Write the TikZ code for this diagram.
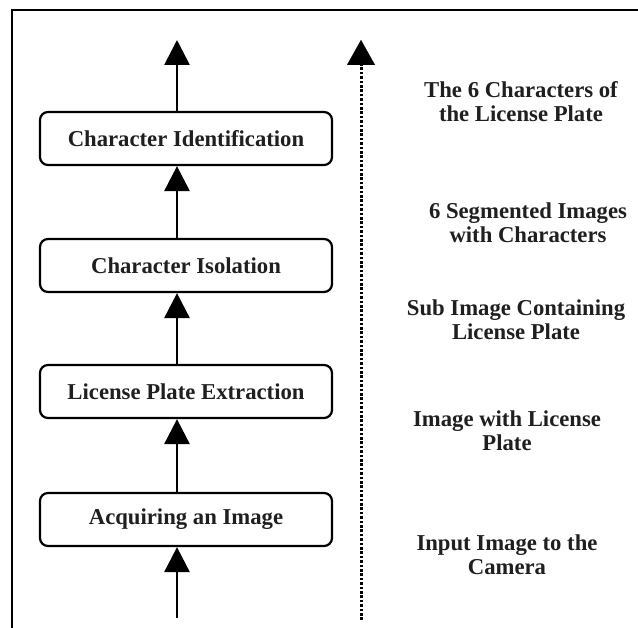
\documentclass[tikz,border=0pt]{standalone}
\usepackage{fontspec}
\setmainfont{Liberation Serif}
\usetikzlibrary{arrows.meta}
\begin{document}
\begin{tikzpicture}[x=1pt,y=-1pt,
  stage/.style={draw=black, line width=2.2pt, rounded corners=8pt,
    minimum width=292pt, minimum height=53pt, inner sep=0pt,
    font=\fontsize{22.7}{24}\selectfont\bfseries, text=black!88},
  datalabel/.style={align=center, inner sep=0pt,
    font=\fontsize{22.7}{24}\selectfont\bfseries, text=black!88},
  flow/.style={line width=2.8pt, -{Triangle[width=25pt,length=25pt]}},
  dots/.style={line width=3pt, dash pattern=on 2.6pt off 1.8pt},
  dothead/.style={-{Triangle[width=28pt,length=25pt]}}
]
\useasboundingbox (0,0) rectangle (638,628);

% frame (only the left and top edges fall inside the page)
\draw[line width=2pt] (12,628) -- (12,10) -- (638,10);

% processing stages
\node[stage] (ident) at (186,138.5) {Character Identification};
\node[stage] (isol)  at (186,265.5) {Character Isolation};
\node[stage] (extr)  at (186,391.5) {License Plate Extraction};
\node[stage] (acq)   at (186,519.5) {Acquiring an Image};

% arrow column and its free ends
\coordinate (ax)   at (177,0);
\coordinate (out)  at (177,40);
\coordinate (in)   at (177,618);

\draw[flow] (in) -- (acq.south -| ax);
\draw[flow] (acq.north -| ax) -- (extr.south -| ax);
\draw[flow] (extr.north -| ax) -- (isol.south -| ax);
\draw[flow] (isol.north -| ax) -- (ident.south -| ax);
\draw[flow] (ident.north -| ax) -- (out);

% dotted data axis
\coordinate (dbot) at (361,620);
\coordinate (dmid) at (361,65);
\coordinate (dtip) at (361,40);
\draw[dots] (dbot) -- (dmid);
\draw[dothead, line width=0.1pt] (dmid) -- (dtip);

% data descriptions
\node[datalabel] (d5) at (521,101.5) {The 6 Characters of\\the License Plate};
\node[datalabel] (d4) at (528,222.5) {6 Segmented Images\\with Characters};
\node[datalabel] (d3) at (516,320)   {Sub Image Containing\\License Plate};
\node[datalabel] (d2) at (507,430.5) {Image with License\\Plate};
\node[datalabel] (d1) at (507,554.5) {Input Image to the\\Camera};
\end{tikzpicture}
\end{document}
